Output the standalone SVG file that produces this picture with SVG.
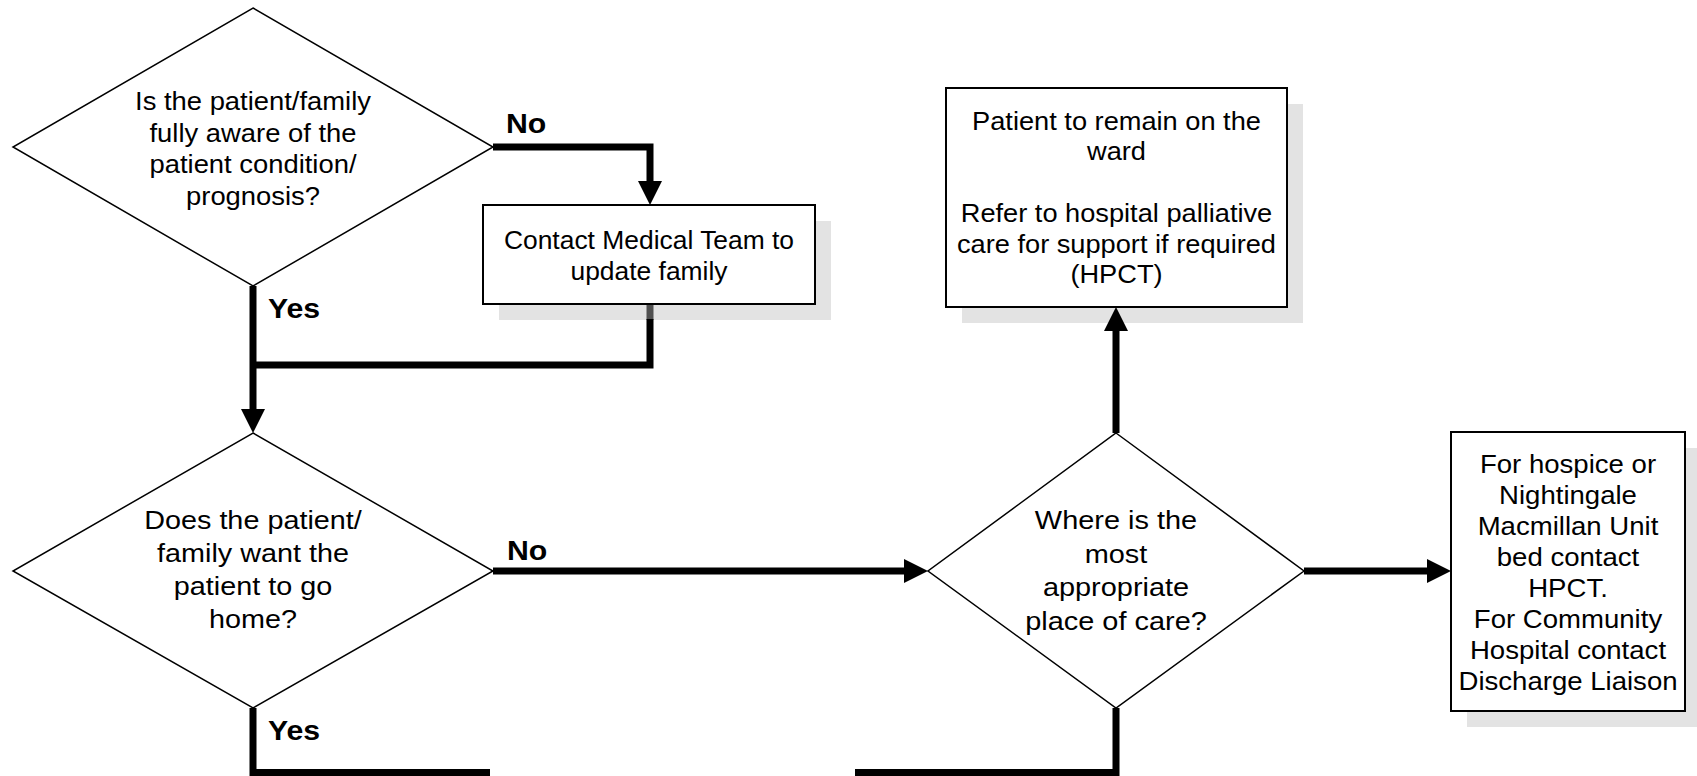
<svg xmlns="http://www.w3.org/2000/svg" width="1697" height="776" viewBox="0 0 1697 776">
<style>
.bg{fill:#ffffff}
.dia{fill:#ffffff;stroke:#000;stroke-width:1.5}
.box{fill:#ffffff;stroke:#000;stroke-width:2}
.shd{fill:#bdbdbd;opacity:0.42}
.t{font-family:"Liberation Sans",Arial,sans-serif;font-size:25.5px;text-anchor:middle;fill:#000}
.lbl{font-family:"Liberation Sans",Arial,sans-serif;font-size:28px;font-weight:bold;fill:#000}
.con{fill:none;stroke:#000;stroke-width:7;stroke-linejoin:miter}
.dim{stroke:#505050}
.arr{marker-end:url(#ah)}
</style>
<defs>
<marker id="ah" markerUnits="userSpaceOnUse" markerWidth="26" markerHeight="26" refX="0" refY="12" orient="auto">
<path d="M0,0 L24,12 L0,24 z" fill="#000"/>
</marker>
</defs>
<rect class="bg" x="0" y="0" width="1697" height="776"/>

<g id="node-aware">
<polygon class="dia" points="253,8 493,147 253,286 13,147"/>
<text class="t" transform="translate(253,0) scale(1.074,1)"><tspan x="0" y="110">Is the patient/family</tspan><tspan x="0" y="141.7">fully aware of the</tspan><tspan x="0" y="173.3">patient condition/</tspan><tspan x="0" y="205">prognosis?</tspan></text>
</g>

<g id="node-contact">
<rect class="shd" x="499" y="221" width="332" height="99"/>
<rect class="box" x="483" y="205" width="332" height="99"/>
<text class="t" transform="translate(649,0) scale(1.036,1)"><tspan x="0" y="249">Contact Medical Team to</tspan><tspan x="0" y="280">update family</tspan></text>
</g>

<g id="node-home">
<polygon class="dia" points="253,433 493,571 253,708 13,571"/>
<text class="t" transform="translate(253,0) scale(1.129,1)"><tspan x="0" y="529">Does the patient/</tspan><tspan x="0" y="562">family want the</tspan><tspan x="0" y="595">patient to go</tspan><tspan x="0" y="628">home?</tspan></text>
</g>

<g id="node-place">
<polygon class="dia" points="1116,433 1304,571 1116,708 928,571"/>
<text class="t" transform="translate(1116,0) scale(1.134,1)"><tspan x="0" y="529">Where is the</tspan><tspan x="0" y="563">most</tspan><tspan x="0" y="596.5">appropriate</tspan><tspan x="0" y="630">place of care?</tspan></text>
</g>

<g id="node-ward">
<rect class="shd" x="962" y="104" width="341" height="219"/>
<rect class="box" x="946" y="88" width="341" height="219"/>
<text class="t" transform="translate(1116.5,0) scale(1.067,1)"><tspan x="0" y="130">Patient to remain on the</tspan><tspan x="0" y="160.5">ward</tspan><tspan x="0" y="222.5">Refer to hospital palliative</tspan><tspan x="0" y="253">care for support if required</tspan><tspan x="0" y="283.5">(HPCT)</tspan></text>
</g>

<g id="node-hospice">
<rect class="shd" x="1467" y="448" width="234" height="279"/>
<rect class="box" x="1451" y="432" width="234" height="279"/>
<text class="t" transform="translate(1568,0) scale(1.081,1)"><tspan x="0" y="473">For hospice or</tspan><tspan x="0" y="504">Nightingale</tspan><tspan x="0" y="535">Macmillan Unit</tspan><tspan x="0" y="566.5">bed contact</tspan><tspan x="0" y="597.5">HPCT.</tspan><tspan x="0" y="628.5">For Community</tspan><tspan x="0" y="659.5">Hospital contact</tspan><tspan x="0" y="690.5">Discharge Liaison</tspan></text>
</g>

<g id="connectors">
<path class="con arr" d="M493,147 H650 V181"/>
<path class="con dim" d="M650,305 V320"/>
<path class="con" d="M650,319 V365 H253"/>
<path class="con arr" d="M253,286 V409"/>
<path class="con arr" d="M493,571 H904"/>
<path class="con arr" d="M1116,433 V331"/>
<path class="con arr" d="M1304,571 H1427"/>
<path class="con" d="M253,708 V772.5 H490"/>
<path class="con" d="M1116,708 V772.5 H855"/>
</g>

<g id="labels">
<text class="lbl" transform="translate(506,133) scale(1.08,1)">No</text>
<text class="lbl" transform="translate(268,318) scale(1.08,1)">Yes</text>
<text class="lbl" transform="translate(507,560) scale(1.08,1)">No</text>
<text class="lbl" transform="translate(268,740) scale(1.08,1)">Yes</text>
</g>
</svg>
